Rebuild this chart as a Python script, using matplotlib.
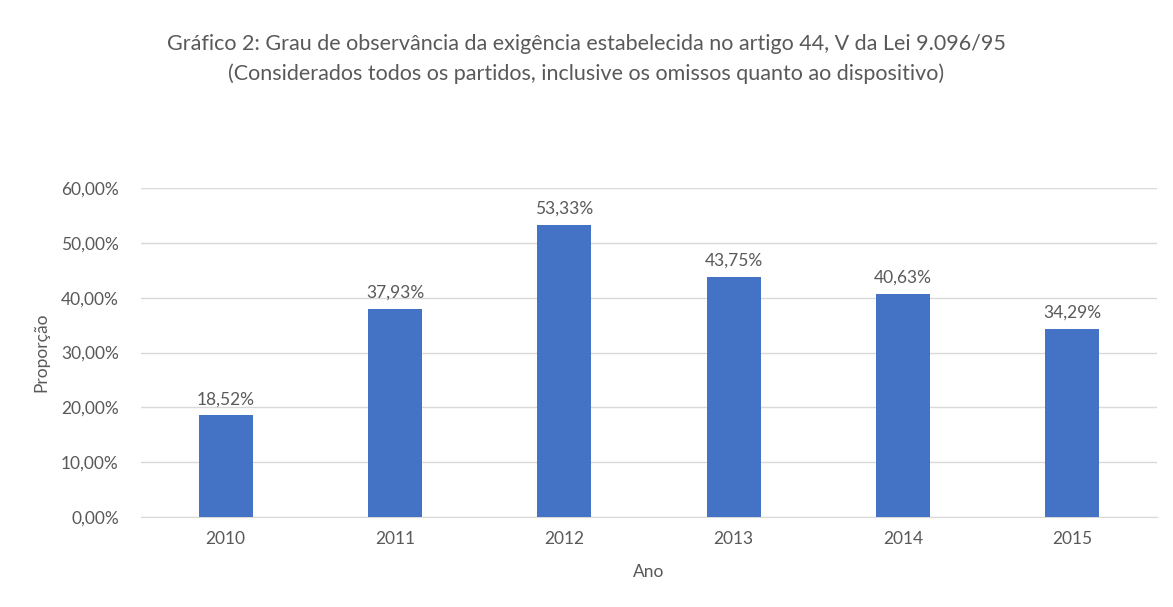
import matplotlib
matplotlib.use("Agg")
import matplotlib.pyplot as plt
from matplotlib.ticker import FuncFormatter

years = ["2010", "2011", "2012", "2013", "2014", "2015"]
values = [18.52, 37.93, 53.33, 43.75, 40.63, 34.29]
yticks = [0, 10, 20, 30, 40, 50, 60]

plt.rcParams['font.family'] = ['Lato', 'DejaVu Sans']
W, H = 1173, 607
fig = plt.figure(figsize=(W/100, H/100), dpi=100)
left, right, top, bottom = 141, 1157, 188, 517
ax = fig.add_axes([left/W, 1 - bottom/H, (right-left)/W, (bottom-top)/H])

txt = '#595959'
x = list(range(len(years)))
ax.bar(x, values, width=0.32, color='#4472C4', zorder=3)
for xi, v in zip(x, values):
    ax.text(xi, v + 1.5, f"{v:.2f}%".replace('.', ','), ha='center', va='bottom',
            fontsize=12.5, color=txt)

ax.set_xlim(-0.5, len(years) - 0.5)
ax.set_ylim(0, 60)
ax.set_yticks(yticks)
ax.yaxis.set_major_formatter(FuncFormatter(lambda v, p: f"{v:.2f}%".replace('.', ',')))
ax.set_xticks(x)
ax.set_xticklabels(years)
ax.tick_params(axis='both', length=0, labelsize=12.5, labelcolor=txt)
ax.tick_params(axis='y', pad=16)
ax.tick_params(axis='x', pad=10)
ax.grid(axis='y', color='#D9D9D9', linewidth=1, zorder=0)
for s in ['top', 'right', 'left']:
    ax.spines[s].set_visible(False)
ax.spines['bottom'].set_color('#D9D9D9')

ax.set_xlabel("Ano", fontsize=12.5, color=txt, labelpad=12)
ax.set_ylabel("Proporção", fontsize=12.5, color=txt, labelpad=8)

fig.text(0.5, 1 - 44/H, "Gráfico 2: Grau de observância da exigência estabelecida no artigo 44, V da Lei 9.096/95",
         ha='center', va='center', fontsize=15.5, color=txt)
fig.text(0.5, 1 - 74/H, "(Considerados todos os partidos, inclusive os omissos quanto ao dispositivo)",
         ha='center', va='center', fontsize=15.5, color=txt)

fig.savefig("out.png", dpi=100, facecolor='white')
